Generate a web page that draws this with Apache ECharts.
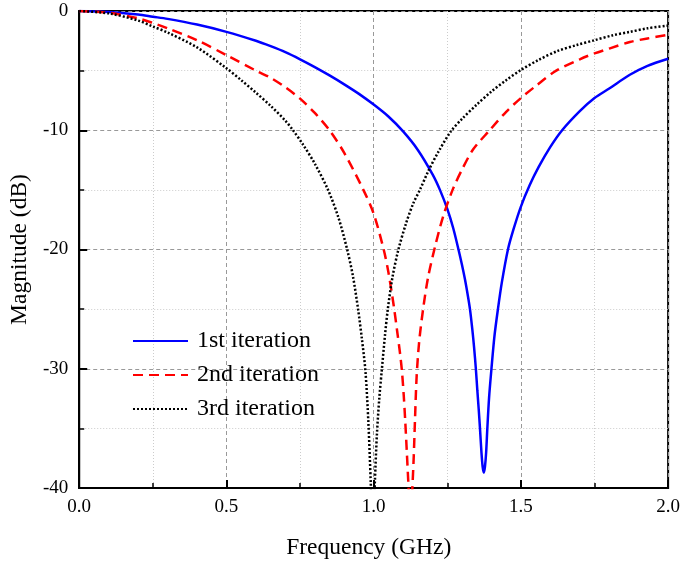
<!DOCTYPE html>
<html>
<head>
<meta charset="utf-8">
<script src="https://cdn.jsdelivr.net/npm/echarts@6/dist/echarts.min.js"></script>
<style>html,body{margin:0;padding:0;background:#fff}#c{width:683px;height:565px}</style>
</head>
<body>
<div id="c"></div>
<script>
// 1st iteration
var freq1 = [0, 0.1, 0.2, 0.25, 0.3, 0.4, 0.5, 0.6, 0.65, 0.7, 0.75, 0.8, 0.85, 0.9, 0.95, 1.0, 1.05, 1.1, 1.15, 1.2, 1.225, 1.25, 1.27, 1.288, 1.3, 1.31, 1.32, 1.327, 1.335, 1.341, 1.347, 1.352, 1.357, 1.361, 1.366, 1.37, 1.374, 1.378, 1.382, 1.386, 1.392, 1.4, 1.41, 1.422, 1.435, 1.456, 1.475, 1.5, 1.53, 1.56, 1.6, 1.64, 1.7, 1.75, 1.8, 1.87, 1.93, 2.0];
var mag1  = [0, -0.08, -0.3, -0.48, -0.66, -1.14, -1.75, -2.5, -2.95, -3.45, -4.05, -4.7, -5.4, -6.15, -6.95, -7.85, -8.85, -10.1, -11.65, -13.7, -15.0, -16.6, -18.2, -20.0, -21.3, -22.5, -23.9, -25.0, -26.7, -28.2, -30.0, -31.8, -33.5, -35.0, -37.0, -38.2, -38.7, -38.2, -37.0, -35.0, -32.4, -30.0, -27.3, -25.0, -22.8, -20.0, -18.3, -16.4, -14.6, -13.1, -11.4, -10.0, -8.4, -7.3, -6.5, -5.35, -4.6, -4.0];
// 2nd iteration
var freq2 = [0, 0.1, 0.2, 0.25, 0.3, 0.4, 0.5, 0.6, 0.65, 0.7, 0.75, 0.8, 0.85, 0.9, 0.965, 1.0, 1.034, 1.05, 1.068, 1.08, 1.09, 1.096, 1.102, 1.107, 1.113, 1.119, 1.125, 1.131, 1.136, 1.14, 1.146, 1.155, 1.169, 1.185, 1.208, 1.235, 1.268, 1.3, 1.338, 1.394, 1.45, 1.5, 1.55, 1.62, 1.7, 1.75, 1.8, 1.87, 1.93, 2.0];
var mag2  = [0, -0.15, -0.62, -1.0, -1.45, -2.45, -3.7, -5.0, -5.6, -6.4, -7.35, -8.55, -10.0, -11.9, -15.0, -17.0, -20.0, -21.9, -24.7, -26.9, -28.8, -30.2, -32.2, -34.3, -37.2, -40.2, -43.0, -40.2, -37.4, -34.5, -30.6, -27.6, -24.8, -22.3, -19.8, -17.3, -15.0, -13.3, -11.6, -10.0, -8.45, -7.3, -6.3, -5.0, -4.05, -3.55, -3.15, -2.6, -2.3, -2.0];
// 3rd iteration
var freq3 = [0, 0.1, 0.2, 0.25, 0.3, 0.4, 0.5, 0.55, 0.6, 0.65, 0.7, 0.726, 0.76, 0.8, 0.845, 0.88, 0.91, 0.93, 0.947, 0.96, 0.972, 0.982, 0.99, 0.997, 1.004, 1.011, 1.019, 1.028, 1.038, 1.048, 1.064, 1.084, 1.11, 1.135, 1.157, 1.186, 1.22, 1.262, 1.3, 1.35, 1.4, 1.45, 1.5, 1.56, 1.625, 1.69, 1.75, 1.81, 1.87, 1.93, 2.0];
var mag3  = [0, -0.2, -0.8, -1.3, -1.8, -3.05, -4.8, -5.8, -6.85, -7.95, -9.2, -10.0, -11.2, -12.8, -15.0, -17.3, -20.0, -22.3, -25.0, -27.5, -30.2, -34.5, -39.5, -44.0, -39.5, -35.5, -32.5, -30.0, -27.3, -25.0, -22.3, -20.0, -17.8, -16.1, -15.0, -13.4, -11.8, -10.1, -9.05, -7.85, -6.75, -5.8, -4.95, -4.1, -3.35, -2.85, -2.45, -2.05, -1.75, -1.45, -1.23];

var seriesNames = ['1st iteration', '2nd iteration', '3rd iteration'];
var xTicks = [0, 0.5, 1.0, 1.5, 2.0];
var yTicks = [-40, -30, -20, -10, 0];

function zip(a, b) { return a.map(function (v, i) { return [v, b[i]]; }); }

var font = 'Liberation Serif, Times New Roman, serif';
var chart = echarts.init(document.getElementById('c'), null, {renderer: 'canvas'});
chart.setOption({
  animation: false,
  backgroundColor: '#fff',
  grid: {left: 79, right: 12, top: 11, bottom: 76, show: true, borderColor: '#000', borderWidth: 2, backgroundColor: 'transparent'},
  legend: {
    orient: 'vertical', left: 127, top: 324,
    itemWidth: 55, itemHeight: 14, itemGap: 10,
    itemStyle: {opacity: 0},
    textStyle: {fontFamily: font, fontSize: 24, color: '#000', padding: [0, 0, 0, 4]},
    data: seriesNames
  },
  xAxis: {
    type: 'value', min: xTicks[0], max: xTicks[xTicks.length - 1], interval: 0.5,
    name: 'Frequency (GHz)', nameLocation: 'middle', nameGap: 48,
    nameTextStyle: {fontFamily: font, fontSize: 23.5, color: '#000', padding: [0, 10, 0, 0]},
    axisLine: {onZero: false, lineStyle: {color: '#000', width: 2}},
    axisTick: {inside: true, length: 8, lineStyle: {color: '#000', width: 2}},
    minorTick: {show: true, splitNumber: 2, length: 5, lineStyle: {color: '#000', width: 1.5}},
    axisLabel: {fontFamily: font, fontSize: 19, color: '#000', margin: 10, formatter: function (v) { return v.toFixed(1); }},
    splitLine: {show: true, lineStyle: {color: '#999', type: [4, 3], width: 1}},
    minorSplitLine: {show: true, lineStyle: {color: '#ccc', type: [1, 2], width: 1}}
  },
  yAxis: {
    type: 'value', min: yTicks[0], max: yTicks[yTicks.length - 1], interval: 10,
    name: 'Magnitude (dB)', nameLocation: 'middle', nameGap: 37,
    nameTextStyle: {fontFamily: font, fontSize: 23.5, color: '#000'},
    axisLine: {show: true, onZero: false, lineStyle: {color: '#000', width: 2}},
    axisTick: {show: true, inside: true, length: 8, lineStyle: {color: '#000', width: 2}},
    minorTick: {show: true, splitNumber: 2, length: 5, lineStyle: {color: '#000', width: 1.5}},
    axisLabel: {fontFamily: font, fontSize: 19, color: '#000', margin: 11},
    splitLine: {show: true, lineStyle: {color: '#999', type: [4, 3], width: 1}},
    minorSplitLine: {show: true, lineStyle: {color: '#ccc', type: [1, 2], width: 1}}
  },
  series: [
    {name: seriesNames[0], type: 'line', data: zip(freq1, mag1), symbol: 'none', smooth: 0.3, clip: true,
     lineStyle: {color: '#0000ff', width: 2.5, type: 'solid'}, itemStyle: {color: '#0000ff'}},
    {name: seriesNames[1], type: 'line', data: zip(freq2, mag2), symbol: 'none', smooth: 0.3, clip: true,
     lineStyle: {color: '#ff0000', width: 2.5, type: [10, 6]}, itemStyle: {color: '#ff0000'}},
    {name: seriesNames[2], type: 'line', data: zip(freq3, mag3), symbol: 'none', smooth: 0.3, clip: true,
     lineStyle: {color: '#000000', width: 2.5, type: [2, 2]}, itemStyle: {color: '#000000'}}
  ]
});
</script>
</body>
</html>
